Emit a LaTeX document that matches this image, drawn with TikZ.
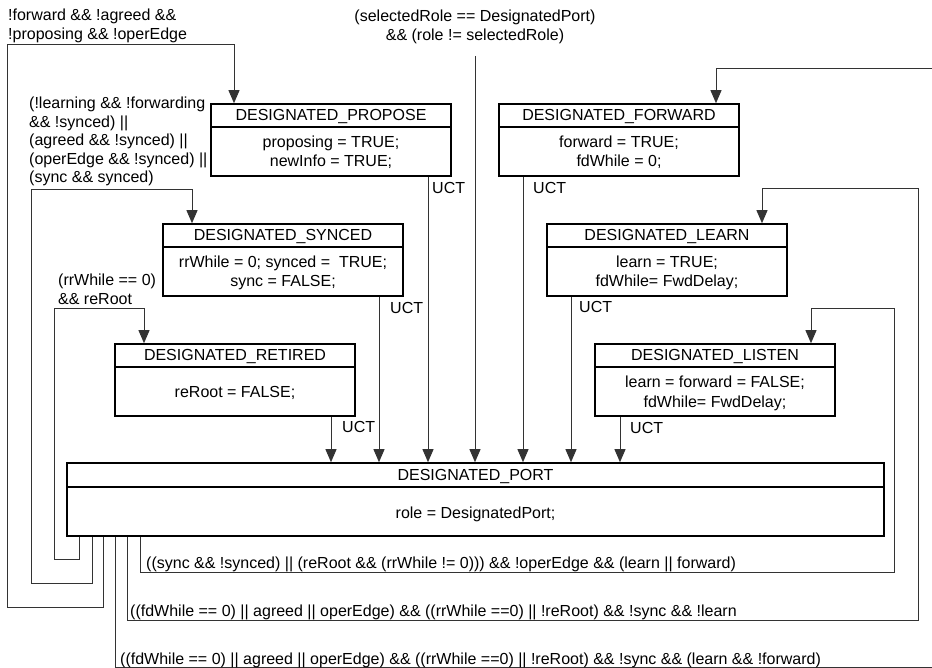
\documentclass[tikz,border=0pt]{standalone}
\usepackage{fontspec}
\setmainfont{Liberation Sans}
\usetikzlibrary{arrows.meta,calc}
\newcommand{\myor}{\textbar\textbar}
\begin{document}
\begin{tikzpicture}[x=1pt,y=-1pt,
  every node/.style={font=\fontsize{16}{18.5}\selectfont, inner sep=0pt},
  stbox/.style={draw=black, line width=1.6pt, minimum width=240pt, minimum height=72pt, inner sep=0pt},
  hline/.style={line width=1.6pt},
  conn/.style={draw=black!80, line width=0.9pt},
  arr/.style={conn, -{Triangle[width=11pt,length=13pt]}},
  lbl/.style={align=left, anchor=north west},
  txt/.style={anchor=base},
]
\useasboundingbox (0,0) rectangle (932,668);

% ---- state boxes
\node[stbox] (propose) at (331,140) {};
\node[stbox] (forward) at (619,140) {};
\node[stbox] (synced)  at (283,260) {};
\node[stbox] (learn)   at (667,260) {};
\node[stbox] (retired) at (235,380) {};
\node[stbox] (listen)  at (715,380) {};
\node[stbox, minimum width=817pt, minimum height=73pt] (port) at (475.5,499.5) {};

\foreach \b in {propose,forward,synced,learn,retired,listen}
  \draw[hline] ($(\b.north west)+(0,24)$) -- ($(\b.north east)+(0,24)$);
\draw[hline] ($(port.north west)+(0,25)$) -- ($(port.north east)+(0,25)$);

% ---- box texts
\node[txt] (proposeT) at (331,121) {DESIGNATED\_PROPOSE};
\node[txt] (proposeA) at (331,148) {proposing = TRUE;};
\node[txt] (proposeB) at (331,167) {newInfo = TRUE;};

\node[txt] (forwardT) at (619,121) {DESIGNATED\_FORWARD};
\node[txt] (forwardA) at (619,148) {forward = TRUE;};
\node[txt] (forwardB) at (619,167) {fdWhile = 0;};

\node[txt] (syncedT) at (283,241) {DESIGNATED\_SYNCED};
\node[txt] (syncedA) at (283,268) {rrWhile = 0; synced = \ TRUE;};
\node[txt] (syncedB) at (283,287) {sync = FALSE;};

\node[txt] (learnT) at (667,241) {DESIGNATED\_LEARN};
\node[txt] (learnA) at (667,268) {learn = TRUE;};
\node[txt] (learnB) at (667,287) {fdWhile= FwdDelay;};

\node[txt] (retiredT) at (235,361) {DESIGNATED\_RETIRED};
\node[txt] (retiredA) at (235,397) {reRoot = FALSE;};

\node[txt] (listenT) at (715,361) {DESIGNATED\_LISTEN};
\node[txt] (listenA) at (715,388) {learn = forward = FALSE;};
\node[txt] (listenB) at (715,407) {fdWhile= FwdDelay;};

\node[txt] (portT) at (475.5,480) {DESIGNATED\_PORT};
\node[txt] (portA) at (475.5,518) {role = DesignatedPort;};

% ---- UCT transitions
\draw[arr] (428,0 |- propose.south) -- (428,0 |- port.north);
\draw[arr] (523,0 |- forward.south) -- (523,0 |- port.north);
\draw[arr] (379,0 |- synced.south)  -- (379,0 |- port.north);
\draw[arr] (571,0 |- learn.south)   -- (571,0 |- port.north);
\draw[arr] (331,0 |- retired.south) -- (331,0 |- port.north);
\draw[arr] (620,0 |- listen.south)  -- (620,0 |- port.north);

\node[anchor=west] (uct1) at (432,188) {UCT};
\node[anchor=west] (uct2) at (533,188) {UCT};
\node[anchor=west] (uct3) at (390,308) {UCT};
\node[anchor=west] (uct4) at (579,307) {UCT};
\node[anchor=west] (uct5) at (342,427) {UCT};
\node[anchor=west] (uct6) at (630,428) {UCT};

% ---- entry transition
\coordinate (sr) at (475,56);
\draw[arr] (sr) -- (sr |- port.north);
\node[align=center, anchor=north] (srl) at (475,10)
  {(selectedRole == DesignatedPort)\\\&\& (role != selectedRole)};

% ---- left loops
\draw[arr] (79,0 |- port.south) -- (79,559) -- (54,559) -- (54,308) -- (144,308) -- (144,0 |- retired.north);
\draw[arr] (92,0 |- port.south) -- (92,583) -- (31,583) -- (31,189) -- (192,189) -- (192,0 |- synced.north);
\draw[arr] (103,0 |- port.south) -- (103,607) -- (7,607) -- (7,44) -- (234,44) -- (234,0 |- propose.north);

\node[lbl] (l1) at (8,9) {!forward \&\& !agreed \&\&\\!proposing \&\& !operEdge};
\node[lbl] (l2) at (29,97) {(!learning \&\& !forwarding\\\&\& !synced) \myor\\(agreed \&\& !synced) \myor\\(operEdge \&\& !synced) \myor\\(sync \&\& synced)};
\node[lbl] (l3) at (58,274) {(rrWhile == 0)\\\&\& reRoot};

% ---- right loops
\draw[arr] (140,0 |- port.south) -- (140,572) -- (894,572) -- (894,308) -- (811,308) -- (811,0 |- listen.north);
\draw[arr] (127,0 |- port.south) -- (127,620) -- (918,620) -- (918,188) -- (762,188) -- (762,0 |- learn.north);
\draw[arr] (115,0 |- port.south) -- (115,667) -- (945,667) -- (945,68) -- (716,68) -- (716,0 |- forward.north);

\node[anchor=base west] (r1) at (146,568) {((sync \&\& !synced) \myor{} (reRoot \&\& (rrWhile != 0))) \&\& !operEdge \&\& (learn \myor{} forward)};
\node[anchor=base west] (r2) at (130,616) {((fdWhile == 0) \myor{} agreed \myor{} operEdge) \&\& ((rrWhile ==0) \myor{} !reRoot) \&\& !sync \&\& !learn};
\node[anchor=base west] (r3) at (120,664) {((fdWhile == 0) \myor{} agreed \myor{} operEdge) \&\& ((rrWhile ==0) \myor{} !reRoot) \&\& !sync \&\& (learn \&\& !forward)};
\end{tikzpicture}
\end{document}
